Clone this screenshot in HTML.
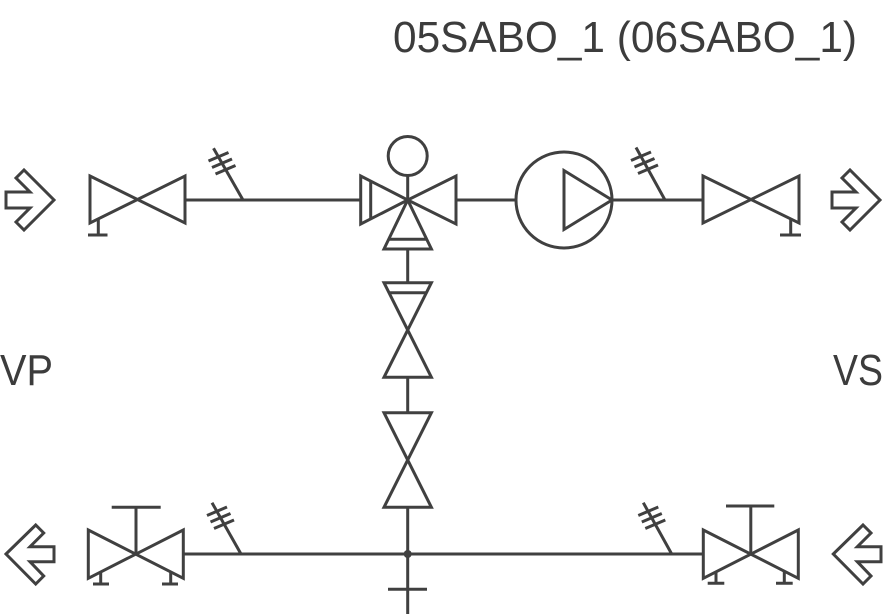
<!DOCTYPE html>
<html>
<head>
<meta charset="utf-8">
<style>
html,body{margin:0;padding:0;background:#fff;}
svg{display:block;}
text{font-family:"Liberation Sans",sans-serif;fill:#3c3c3c;}
</style>
</head>
<body>
<svg width="885" height="614" viewBox="0 0 885 614" xmlns="http://www.w3.org/2000/svg">
<g fill="none" stroke="#404040" stroke-width="3" stroke-linejoin="miter">

<!-- Top-left arrow (pointing right) -->
<polygon points="6,192 30,192 16,178 24,170 54,200 24,230 16,222 30,208 6,208"/>
<!-- Top-right arrow -->
<polygon points="832,192 856,192 842,178 850,170 880,200 850,230 842,222 856,208 832,208"/>
<!-- Bottom-left arrow (pointing left) -->
<polygon points="6,554 35.7,525 43.7,533 30,546.7 54,546.7 54,561.7 30,561.7 43.7,576 35.7,584"/>
<!-- Bottom-right arrow (pointing left) -->
<polygon points="833.3,554 863,525 871,533 857.3,546.7 881,546.7 881,561.7 857.3,561.7 871,576 863,584"/>

<!-- Top-left valve -->
<polygon points="90,176 185,223 185,176 90,223"/>
<line x1="98.3" y1="219" x2="98.3" y2="235"/>
<line x1="88" y1="235" x2="107.5" y2="235"/>

<!-- Top-right valve -->
<polygon points="703,176 799,223 799,176 703,223"/>
<line x1="790.7" y1="219" x2="790.7" y2="235"/>
<line x1="780" y1="235" x2="801" y2="235"/>

<!-- Top pipe segments -->
<line x1="185" y1="200" x2="360.7" y2="200"/>
<line x1="456" y1="200" x2="516" y2="200"/>
<line x1="612" y1="200" x2="703" y2="200"/>

<!-- Taps top -->
<line x1="243" y1="200" x2="213.5" y2="148.3"/>
<line x1="208.5" y1="161" x2="228.5" y2="152.5"/>
<line x1="212" y1="167.5" x2="232" y2="159"/>
<line x1="215.5" y1="174" x2="235.5" y2="165.5"/>

<line x1="665" y1="200" x2="636" y2="147.5"/>
<line x1="631" y1="160.5" x2="651" y2="152"/>
<line x1="634.5" y1="167" x2="654.5" y2="158.5"/>
<line x1="638" y1="173.5" x2="658" y2="165"/>

<!-- 3-way valve -->
<circle cx="407.7" cy="156" r="19.5"/>
<line x1="407.7" y1="175.5" x2="407.7" y2="200"/>
<polygon points="360.7,176 360.7,224 407.7,200"/>
<line x1="370.7" y1="181" x2="370.7" y2="219"/>
<polygon points="456,176 456,224 407.7,200"/>
<polygon points="384,249 431.4,249 407.7,200"/>
<line x1="388.7" y1="239.3" x2="426.7" y2="239.3"/>

<!-- Pump -->
<circle cx="564" cy="200" r="48"/>
<polygon points="564,170.5 564,229.5 612,200"/>

<!-- Vertical line and valves -->
<line x1="407.7" y1="249" x2="407.7" y2="282.7"/>
<polygon points="384,282.7 431.4,282.7 384,377.3 431.4,377.3"/>
<line x1="389" y1="292.7" x2="426.7" y2="292.7"/>
<line x1="407.7" y1="377.3" x2="407.7" y2="412.7"/>
<polygon points="384,412.7 431.4,412.7 384,507.3 431.4,507.3"/>
<line x1="407.7" y1="507.3" x2="407.7" y2="614"/>
<line x1="388" y1="589.3" x2="427" y2="589.3"/>

<!-- Bottom pipe -->
<line x1="183.3" y1="554" x2="703.3" y2="554"/>

<!-- Bottom-left valve -->
<polygon points="88.3,530 183.3,578.3 183.3,530 88.3,578.3"/>
<line x1="136" y1="554" x2="136" y2="507.3"/>
<line x1="111.7" y1="507.3" x2="160.7" y2="507.3"/>
<line x1="100.7" y1="572" x2="100.7" y2="584"/>
<line x1="93" y1="584" x2="109" y2="584"/>
<line x1="170.7" y1="572" x2="170.7" y2="584"/>
<line x1="162" y1="584" x2="178" y2="584"/>

<!-- Bottom-right valve -->
<polygon points="703.3,530 798.3,578.3 798.3,530 703.3,578.3"/>
<line x1="750.8" y1="554" x2="750.8" y2="506"/>
<line x1="726" y1="506" x2="774.3" y2="506"/>
<line x1="716" y1="572" x2="716" y2="583.3"/>
<line x1="707.7" y1="583.3" x2="724.3" y2="583.3"/>
<line x1="784.3" y1="572" x2="784.3" y2="583.3"/>
<line x1="776" y1="583.3" x2="792.7" y2="583.3"/>

<!-- Taps bottom -->
<line x1="241" y1="554" x2="212" y2="502.7"/>
<line x1="207" y1="515.5" x2="227" y2="507"/>
<line x1="210.5" y1="522" x2="230.5" y2="513.5"/>
<line x1="214" y1="528.5" x2="234" y2="520"/>

<line x1="671.7" y1="554" x2="643.3" y2="502.7"/>
<line x1="638.3" y1="515.5" x2="658.3" y2="507"/>
<line x1="641.8" y1="522" x2="661.8" y2="513.5"/>
<line x1="645.3" y1="528.5" x2="665.3" y2="520"/>
</g>

<circle cx="407.7" cy="554" r="4" fill="#404040"/>

<text x="393" y="52" font-size="44" textLength="464" lengthAdjust="spacingAndGlyphs">05SABO_1 (06SABO_1)</text>
<text x="0" y="385" font-size="44" textLength="53" lengthAdjust="spacingAndGlyphs">VP</text>
<text x="833" y="385" font-size="44" textLength="50" lengthAdjust="spacingAndGlyphs">VS</text>
</svg>
</body>
</html>
